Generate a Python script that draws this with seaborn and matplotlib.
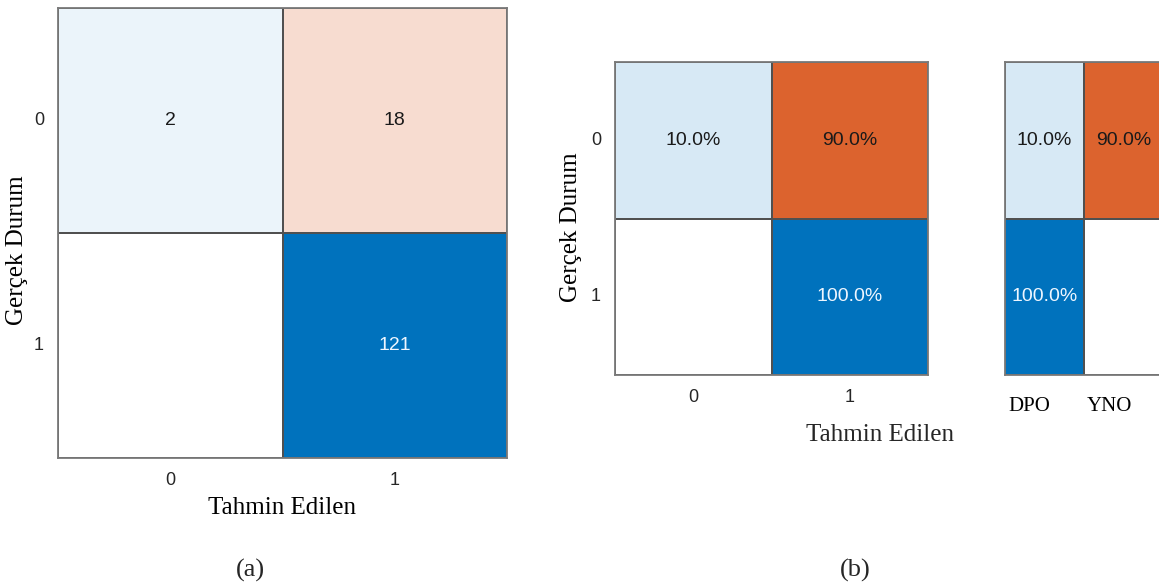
import numpy as np
import pandas as pd
import matplotlib
matplotlib.use("Agg")
import matplotlib.pyplot as plt
from matplotlib.colors import LinearSegmentedColormap
import seaborn as sns

# Confusion matrix counts (rows: true class, columns: predicted class)
classes = ["0", "1"]
counts = [[2, 18],
          [0, 121]]

# Row-normalised percentages
row_pct = [[10.0, 90.0],
           [0.0, 100.0]]

# Row summary: true positive rate / false negative rate per class
summary_labels = ["DPO", "YNO"]
summary_pct = [[10.0, 90.0],
               [100.0, 0.0]]

sns.set_theme(style="white")
plt.rcParams["font.family"] = ["Liberation Sans", "DejaVu Sans"]
SERIF = ["Liberation Serif", "DejaVu Serif"]

BLUE = "#0072BD"
ORANGE = "#D95319"
cmap_good = LinearSegmentedColormap.from_list("good", ["#ffffff", BLUE])
cmap_bad = LinearSegmentedColormap.from_list("bad", ["#ffffff", ORANGE])
LINE = "#505050"
FRAME = "#7a7a7a"
CELL_FS = 14
TICK_FS = 13
LABEL_FS = 18


def style_frame(ax):
    for s in ax.spines.values():
        s.set_visible(True)
        s.set_color(FRAME)
        s.set_linewidth(1.3)


def draw_matrix(ax, df, good_mask, fmt, vmax):
    arr = df.to_numpy(dtype=float)
    zero = arr == 0
    vmin = -0.07 * vmax
    sns.heatmap(df, ax=ax, mask=~good_mask | zero, cmap=cmap_good,
                vmin=vmin, vmax=vmax, cbar=False, annot=True, fmt=fmt,
                annot_kws={"fontsize": CELL_FS},
                linewidths=1.2, linecolor=LINE)
    sns.heatmap(df, ax=ax, mask=good_mask | zero, cmap=cmap_bad,
                vmin=vmin, vmax=vmax, cbar=False, annot=True, fmt=fmt,
                annot_kws={"fontsize": CELL_FS, "color": "#1a1a1a"},
                linewidths=1.2, linecolor=LINE)
    for t in ax.texts:
        if t.get_color() in ("w", "white"):
            t.set_color("#eef6ff")
        else:
            t.set_color("#1a1a1a")
    style_frame(ax)


fig = plt.figure(figsize=(11.59, 5.85), dpi=100)
diag = np.eye(2, dtype=bool)

# ---- (a) counts ----
ax_a = fig.add_axes([58 / 1159, 1 - 458 / 585, 449 / 1159, 450 / 585])
df_a = pd.DataFrame(counts, index=classes, columns=classes)
draw_matrix(ax_a, df_a, diag, "d", float(df_a.to_numpy().max()))
ax_a.tick_params(length=0, labelsize=TICK_FS, colors="#262626")
ax_a.tick_params(axis="x", pad=10)
ax_a.tick_params(axis="y", pad=10)
ax_a.set_yticklabels(classes, rotation=0)
ax_a.set_xlabel("Tahmin Edilen", family=SERIF, fontsize=LABEL_FS, labelpad=6, color="black")
ax_a.set_ylabel("Gerçek Durum", family=SERIF, fontsize=LABEL_FS, color="black")
ax_a.yaxis.set_label_coords(-0.067, 0.462)

# ---- (b) row-normalised ----
ax_b = fig.add_axes([615 / 1159, 1 - 375 / 585, 313 / 1159, 313 / 585])
df_b = pd.DataFrame(row_pct, index=classes, columns=classes)
draw_matrix(ax_b, df_b, diag, ".1f", 100.0)
for t in ax_b.texts:
    t.set_text(t.get_text() + "%")
ax_b.tick_params(length=0, labelsize=TICK_FS, colors="#262626")
ax_b.tick_params(axis="x", pad=10)
ax_b.tick_params(axis="y", pad=10)
ax_b.set_yticklabels(classes, rotation=0)
ax_b.set_xlabel("")
ax_b.set_ylabel("Gerçek Durum", family=SERIF, fontsize=LABEL_FS, color="black")
ax_b.yaxis.set_label_coords(-0.105, 0.473)

# ---- (b) row summary ----
ax_s = fig.add_axes([1005 / 1159, 1 - 375 / 585, 158 / 1159, 313 / 585])
df_s = pd.DataFrame(summary_pct, index=classes, columns=summary_labels)
good_col = np.zeros(df_s.shape, dtype=bool)
good_col[:, 0] = True
draw_matrix(ax_s, df_s, good_col, ".1f", 100.0)
for t in ax_s.texts:
    t.set_text(t.get_text() + "%")
ax_s.set_yticks([])
ax_s.set_ylabel("")
ax_s.set_xlabel("")
ax_s.set_xticks([0.04, 1.04])
ax_s.set_xticklabels(summary_labels, family=SERIF, fontsize=15, ha="left", color="black")
ax_s.tick_params(axis="x", length=0, pad=16)

fig.text(880 / 1159, 1 - 435 / 585, "Tahmin Edilen", family=SERIF, fontsize=LABEL_FS,
         ha="center", va="center")
fig.text(250 / 1159, 1 - 570 / 585, "(a)", family=SERIF, fontsize=19,
         ha="center", va="center")
fig.text(855 / 1159, 1 - 570 / 585, "(b)", family=SERIF, fontsize=19,
         ha="center", va="center")

fig.savefig("out.png", dpi=100, facecolor="white")
